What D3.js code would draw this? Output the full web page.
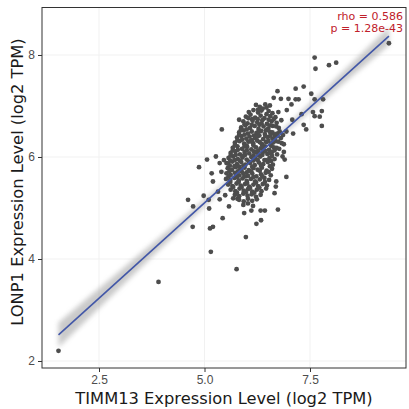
<!DOCTYPE html>
<html lang="en">
<head>
    <meta charset="UTF-8">
    <title>TIMM13 vs LONP1</title>
    <script src="https://d3js.org/d3.v7.min.js"></script>
    <style>
        body { margin: 0; background: #fff; }
        svg { display: block; font-family: "DejaVu Sans", sans-serif; }
        .dot { fill: #4d4d4d; }
        .tick text { fill: #4d4d4d; font-size: 12px; }
        .tick line { stroke: #333; }
    </style>
</head>
<body>
    <svg width="409" height="409"></svg>
    <script>
        // axis ticks
        const xTicks = [2.5, 5.0, 7.5];
        const yTicks = [2, 4, 6, 8];

        // scattered samples around the cloud [TIMM13, LONP1]
        const edgePoints = [
            [9.37, 8.23], [7.61, 7.95], [7.63, 7.73], [7.95, 7.80], [8.12, 7.85],
            [7.16, 7.34], [7.35, 7.38], [6.73, 7.29], [7.53, 7.24], [7.61, 7.13],
            [7.16, 7.13], [7.23, 7.13], [6.64, 7.16], [6.81, 7.14], [6.99, 7.14],
            [7.81, 7.13], [6.47, 6.97], [6.55, 7.01], [7.06, 7.03], [7.57, 6.88],
            [7.61, 6.80], [7.78, 6.90], [7.73, 6.79], [7.30, 6.84], [6.95, 6.92],
            [7.08, 6.73], [6.75, 6.88], [5.41, 6.54], [5.82, 6.73], [7.35, 6.63],
            [7.41, 6.54], [7.78, 6.61], [7.10, 6.46], [6.88, 6.10], [6.85, 6.01],
            [6.94, 5.61], [4.87, 5.80], [5.06, 5.95], [5.27, 6.01], [4.61, 5.16],
            [4.73, 5.03], [4.72, 4.63], [4.98, 5.24], [5.10, 5.16], [5.11, 4.99],
            [5.13, 4.60], [5.20, 4.63], [5.36, 5.17], [5.43, 4.80], [5.49, 5.25],
            [5.98, 4.43], [5.15, 4.14], [5.76, 3.80], [3.91, 3.55], [1.54, 2.20],
            [5.94, 4.90], [6.11, 4.95], [6.33, 4.95], [6.43, 4.95], [6.23, 4.69],
            [6.34, 4.76], [6.74, 4.97], [6.66, 5.29], [6.69, 5.42], [6.70, 5.52],
            [6.90, 5.95], [6.86, 6.43], [6.94, 6.50], [5.68, 5.19], [5.78, 5.18],
            [5.58, 5.03], [5.32, 5.32], [5.20, 5.52], [5.17, 5.68], [5.40, 5.71],
            [5.52, 5.88], [5.36, 5.88], [5.46, 5.94], [6.82, 6.72], [6.88, 6.25]
        ];

        // dense core of the cloud [TIMM13, LONP1]
        const corePoints = [
            [6.22, 7.02], [6.31, 6.98], [6.44, 7.03], [6.38, 6.95],
            [6.05, 6.88], [6.16, 6.92], [6.27, 6.87], [6.52, 6.90], [6.61, 6.86], [6.35, 6.91],
            [5.98, 6.79], [6.09, 6.83], [6.20, 6.77], [6.33, 6.81], [6.42, 6.76], [6.56, 6.80], [6.68, 6.78], [6.13, 6.74],
            [5.92, 6.70], [6.02, 6.66], [6.14, 6.71], [6.25, 6.68], [6.37, 6.72], [6.48, 6.65], [6.59, 6.70], [6.71, 6.67], [6.30, 6.63],
            [5.87, 6.58], [5.97, 6.62], [6.08, 6.57], [6.19, 6.61], [6.28, 6.55], [6.40, 6.60], [6.51, 6.56], [6.62, 6.61], [6.76, 6.57], [6.45, 6.52],
            [5.82, 6.48], [5.93, 6.52], [6.03, 6.46], [6.12, 6.50], [6.23, 6.47], [6.34, 6.51], [6.43, 6.45], [6.55, 6.49], [6.66, 6.44], [6.78, 6.50], [6.17, 6.42],
            [5.77, 6.38], [5.88, 6.41], [5.99, 6.36], [6.07, 6.40], [6.20, 6.37], [6.30, 6.42], [6.39, 6.35], [6.50, 6.39], [6.61, 6.36], [6.72, 6.41], [6.81, 6.37], [6.12, 6.33],
            [5.72, 6.28], [5.83, 6.31], [5.94, 6.26], [6.04, 6.30], [6.15, 6.27], [6.25, 6.32], [6.36, 6.25], [6.46, 6.29], [6.57, 6.26], [6.68, 6.31], [6.83, 6.27], [6.00, 6.22],
            [5.67, 6.18], [5.78, 6.21], [5.89, 6.16], [6.01, 6.20], [6.11, 6.15], [6.22, 6.19], [6.33, 6.17], [6.43, 6.21], [6.53, 6.14], [6.64, 6.19], [6.77, 6.16], [6.27, 6.12],
            [5.62, 6.08], [5.73, 6.11], [5.84, 6.05], [5.95, 6.10], [6.06, 6.07], [6.17, 6.11], [6.28, 6.04], [6.38, 6.09], [6.49, 6.06], [6.60, 6.10], [6.72, 6.05], [5.90, 6.02],
            [5.57, 5.98], [5.68, 6.01], [5.79, 5.96], [5.90, 5.99], [6.00, 5.95], [6.11, 6.00], [6.21, 5.97], [6.32, 6.01], [6.42, 5.94], [6.54, 5.98], [6.66, 5.96], [6.05, 5.91],
            [5.56, 5.87], [5.66, 5.91], [5.77, 5.86], [5.87, 5.90], [5.97, 5.85], [6.08, 5.88], [6.19, 5.84], [6.29, 5.89], [6.39, 5.86], [6.50, 5.90], [6.62, 5.85], [5.82, 5.81],
            [5.55, 5.78], [5.65, 5.75], [5.74, 5.80], [5.85, 5.76], [5.95, 5.79], [6.05, 5.74], [6.16, 5.78], [6.26, 5.75], [6.36, 5.79], [6.47, 5.73], [6.60, 5.77], [6.00, 5.70],
            [5.52, 5.68], [5.62, 5.65], [5.72, 5.69], [5.82, 5.64], [5.92, 5.67], [6.03, 5.63], [6.13, 5.68], [6.23, 5.62], [6.34, 5.66], [6.45, 5.69], [6.57, 5.64],
            [5.51, 5.57], [5.61, 5.55], [5.71, 5.59], [5.81, 5.54], [5.90, 5.58], [6.00, 5.53], [6.10, 5.57], [6.20, 5.52], [6.31, 5.56], [6.42, 5.59], [6.53, 5.55],
            [5.56, 5.46], [5.66, 5.43], [5.76, 5.48], [5.86, 5.44], [5.96, 5.47], [6.06, 5.42], [6.16, 5.46], [6.27, 5.43], [6.38, 5.47], [6.48, 5.44],
            [5.62, 5.36], [5.73, 5.33], [5.83, 5.38], [5.93, 5.34], [6.03, 5.37], [6.13, 5.32], [6.24, 5.36], [6.35, 5.33], [6.46, 5.38],
            [5.72, 5.26], [5.82, 5.23], [5.92, 5.28], [6.02, 5.24], [6.12, 5.27], [6.22, 5.22], [6.33, 5.26],
            [5.82, 5.16], [5.93, 5.13], [6.03, 5.18], [6.13, 5.14], [6.24, 5.17],
            [5.92, 5.06], [6.03, 5.09], [6.15, 5.04]
        ];

        // more samples packed between the core rows
        const fillPoints = [
            [6.27, 6.93], [6.47, 6.84], [6.04, 6.76], [6.26, 6.74], [6.52, 6.73], [6.64, 6.74],
            [5.95, 6.64], [6.12, 6.63], [6.35, 6.66], [6.56, 6.62], [6.70, 6.60],
            [5.86, 6.53], [6.00, 6.54], [6.28, 6.49], [6.49, 6.53], [6.61, 6.48], [6.72, 6.46],
            [5.82, 6.43], [5.95, 6.44], [6.25, 6.40], [6.44, 6.41], [6.56, 6.42], [6.67, 6.38],
            [5.78, 6.33], [5.89, 6.34], [6.09, 6.31], [6.31, 6.29], [6.51, 6.32], [6.62, 6.28], [6.75, 6.30],
            [5.72, 6.23], [5.95, 6.21], [6.16, 6.23], [6.38, 6.18], [6.58, 6.22], [6.71, 6.18],
            [5.67, 6.13], [5.79, 6.14], [6.00, 6.13], [6.22, 6.09], [6.44, 6.12], [6.55, 6.08], [6.66, 6.13],
            [5.62, 6.03], [5.74, 6.04], [5.96, 6.04], [6.16, 6.03], [6.37, 6.04], [6.60, 6.02],
            [5.61, 5.93], [5.72, 5.94], [5.84, 5.93], [6.16, 5.93], [6.26, 5.94], [6.46, 5.94], [6.58, 5.92],
            [5.60, 5.83], [5.71, 5.82], [5.92, 5.83], [6.13, 5.81], [6.34, 5.83], [6.55, 5.82],
            [5.59, 5.72], [5.79, 5.72], [5.88, 5.72], [6.10, 5.72], [6.31, 5.73], [6.52, 5.71],
            [5.57, 5.62], [5.77, 5.61], [5.96, 5.62], [6.16, 5.61], [6.37, 5.62],
            [5.61, 5.51], [5.81, 5.51], [6.01, 5.49], [6.22, 5.50], [6.43, 5.51],
            [5.68, 5.41], [5.88, 5.41], [6.08, 5.39], [6.30, 5.40],
            [5.77, 5.30], [5.98, 5.31], [6.18, 5.30]
        ];

        // linear fit: [slope, intercept], x range, CI half-widths
        const fit = [0.748, 1.36];
        const fitRange = [1.54, 9.37];
        const ciCentre = 6.1;
        const ciHalf = [0.03, 0.24]; // at the centre, at the left end

        const stats = ["rho = 0.586", "p = 1.28e-43"];

        const svg = d3.select("svg");
        const margin = {top: 7.5, right: 3, bottom: 41, left: 42};
        const W = +svg.attr("width"), H = +svg.attr("height");

        const x = d3.scaleLinear().domain([1.149, 9.775]).range([margin.left, W - margin.right]);
        const y = d3.scaleLinear().domain([1.863, 8.931]).range([H - margin.bottom, margin.top]);

        // blur for the confidence band
        svg.append("defs").append("filter")
            .attr("id", "soft")
            .attr("x", "-20%").attr("y", "-20%").attr("width", "140%").attr("height", "140%")
            .append("feGaussianBlur").attr("stdDeviation", 2.5);

        // faint grid
        svg.append("g").selectAll("line").data(xTicks).join("line")
            .attr("x1", d => x(d)).attr("x2", d => x(d))
            .attr("y1", margin.top).attr("y2", H - margin.bottom)
            .attr("stroke", "#f1f1f1");
        svg.append("g").selectAll("line").data(yTicks).join("line")
            .attr("x1", margin.left).attr("x2", W - margin.right)
            .attr("y1", d => y(d)).attr("y2", d => y(d))
            .attr("stroke", "#f1f1f1");

        // confidence band
        const b = Math.sqrt(ciHalf[1] ** 2 - ciHalf[0] ** 2) / (ciCentre - fitRange[0]);
        const hw = v => Math.sqrt(ciHalf[0] ** 2 + b * b * (v - ciCentre) ** 2);
        const lineY = v => fit[0] * v + fit[1];
        const bandX = d3.range(0, 41).map(i => fitRange[0] + (fitRange[1] - fitRange[0]) * i / 40);
        svg.append("path")
            .datum(bandX)
            .attr("fill", "#949494")
            .attr("opacity", 0.5)
            .attr("filter", "url(#soft)")
            .attr("d", d3.area()
                .x(d => x(d))
                .y0(d => y(lineY(d) - hw(d)))
                .y1(d => y(lineY(d) + hw(d))));

        // points
        svg.append("g").selectAll(".dot")
            .data(edgePoints.concat(corePoints, fillPoints))
            .join("circle")
            .attr("class", "dot")
            .attr("cx", d => x(d[0]))
            .attr("cy", d => y(d[1]))
            .attr("r", 2.4);

        // regression line
        svg.append("line")
            .attr("x1", x(fitRange[0])).attr("y1", y(lineY(fitRange[0])))
            .attr("x2", x(fitRange[1])).attr("y2", y(lineY(fitRange[1])))
            .attr("stroke", "#4257a8")
            .attr("stroke-width", 1.6);

        // panel border
        svg.append("rect")
            .attr("x", margin.left).attr("y", margin.top)
            .attr("width", W - margin.right - margin.left)
            .attr("height", H - margin.bottom - margin.top)
            .attr("fill", "none").attr("stroke", "#333").attr("stroke-width", 1);

        // axes
        const xAxis = svg.append("g")
            .attr("transform", `translate(0,${H - margin.bottom})`)
            .call(d3.axisBottom(x).tickValues(xTicks).tickFormat(d3.format(".1f")).tickSize(4).tickPadding(3));
        const yAxis = svg.append("g")
            .attr("transform", `translate(${margin.left},0)`)
            .call(d3.axisLeft(y).tickValues(yTicks).tickFormat(d3.format("d")).tickSize(4).tickPadding(3));
        xAxis.select(".domain").remove();
        yAxis.select(".domain").remove();

        // axis titles
        svg.append("text")
            .attr("x", 224)
            .attr("y", 404)
            .attr("text-anchor", "middle")
            .attr("font-size", 16.3)
            .attr("fill", "#1a1a1a")
            .text("TIMM13 Expression Level (log2 TPM)");
        svg.append("text")
            .attr("transform", "translate(23,182) rotate(-90)")
            .attr("text-anchor", "middle")
            .attr("font-size", 16.3)
            .attr("fill", "#1a1a1a")
            .text("LONP1 Expression Level (log2 TPM)");

        // correlation text
        svg.append("g").selectAll("text")
            .data(stats)
            .join("text")
            .attr("x", 403)
            .attr("y", (d, i) => 20 + i * 12)
            .attr("text-anchor", "end")
            .attr("font-size", 11)
            .attr("fill", "#c0202a")
            .text(d => d);
    </script>
</body>
</html>
